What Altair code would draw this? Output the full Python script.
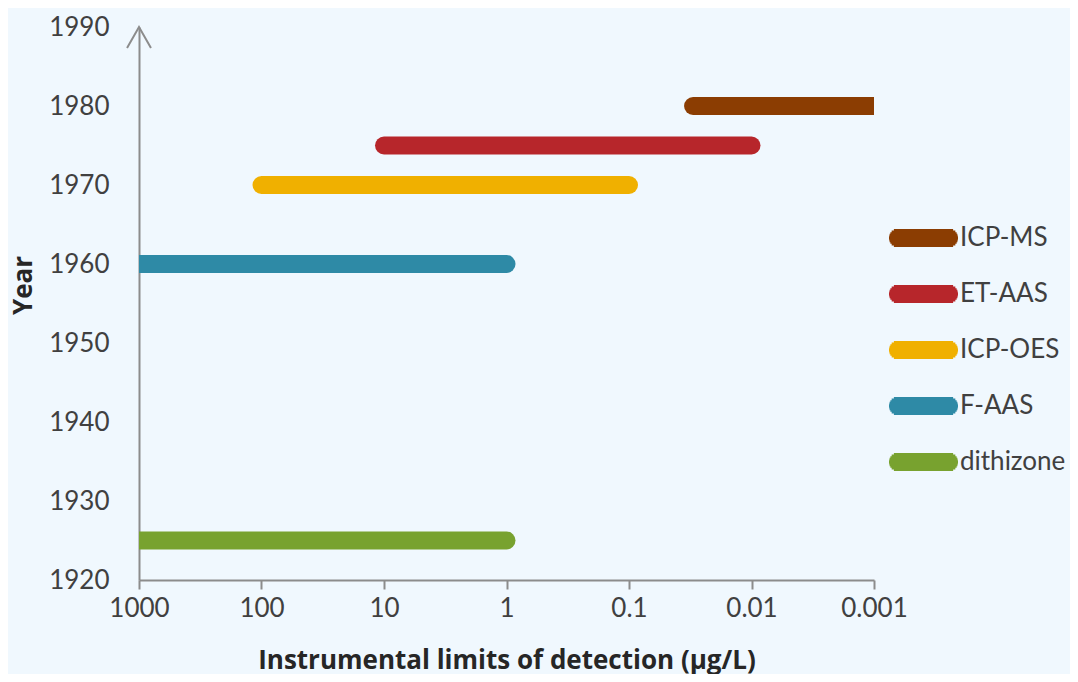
import math
import altair as alt
import pandas as pd

methods = ["ICP-MS", "ET-AAS", "ICP-OES", "F-AAS", "dithizone"]
years = [1980, 1975, 1970, 1960, 1925]
lod_high = [0.03, 10, 100, 1000, 1000]
lod_low = [0.001, 0.01, 0.1, 1, 1]
colors = ["#8B3D02", "#B7262B", "#F0B000", "#2E8AA6", "#78A22F"]

x_ticks = [1000, 100, 10, 1, 0.1, 0.01, 0.001]
y_ticks = [1920, 1930, 1940, 1950, 1960, 1970, 1980, 1990]

df = pd.DataFrame({"method": methods, "year": years, "hi": lod_high, "lo": lod_low})
arrow_df = pd.DataFrame({"x": [x_ticks[0]], "y": [y_ticks[-1]]})

FONT = "Lato"
TITLE_FONT = "Open Sans"
AXIS_GRAY = "#8C8C8C"

x_scale = alt.Scale(type="log", domain=[0.001, 1000], reverse=True)
y_scale = alt.Scale(domain=[1920, 1990], nice=False, zero=False)

# legend symbol: a round-capped thick line, drawn as thin horizontal strokes
# (path units: 1 unit = 10 px for symbolSize 400)
_segs = []
for i in range(11):
    yy = -8 + i * 1.6
    hx = 25.5 + math.sqrt(max(0.0, 81 - yy * yy))
    _segs.append(f"M{-hx/10:.3f},{yy/10:.3f} L{hx/10:.3f},{yy/10:.3f}")
capsule = " ".join(_segs)

bars = alt.Chart(df).mark_rule(strokeWidth=18, strokeCap="round", clip=True, opacity=1).encode(
    x=alt.X("hi:Q", scale=x_scale,
            axis=alt.Axis(values=x_ticks, format="~g", grid=False,
                          title="Instrumental limits of detection (µg/L)",
                          domainColor=AXIS_GRAY, domainWidth=2,
                          tickColor=AXIS_GRAY, tickWidth=2, tickSize=9,
                          labelFont=FONT, labelFontSize=26, labelColor="#404040",
                          labelPadding=6, labelFlush=False, labelOverlap=False,
                          titleFont=TITLE_FONT, titleFontSize=26, titleFontWeight="bold",
                          titleColor="#262626", titleY=88, titleBaseline="alphabetic")),
    x2="lo:Q",
    y=alt.Y("year:Q", scale=y_scale,
            axis=alt.Axis(values=y_ticks, format="d", grid=False, ticks=False,
                          title="Year", domainColor=AXIS_GRAY, domainWidth=2,
                          labelFont=FONT, labelFontSize=26, labelColor="#404040",
                          labelPadding=30, labelFlush=False, labelOverlap=False,
                          titleFont=TITLE_FONT, titleFontSize=26, titleFontWeight="bold",
                          titleColor="#262626", titleX=-116, titleY=258,
                          titleAlign="center", titleBaseline="middle")),
    color=alt.Color("method:N", sort=methods,
                    scale=alt.Scale(domain=methods, range=colors),
                    legend=alt.Legend(title=None, orient="none", legendX=771.5, legendY=198,
                                      padding=0, symbolType=capsule, symbolSize=400,
                                      symbolStrokeWidth=2, labelOffset=23.5,
                                      labelFont=FONT, labelFontSize=26, labelColor="#404040",
                                      rowPadding=30, labelLimit=300)),
)

arrow = alt.Chart(arrow_df).mark_point(
    shape="M-0.57,1 L0,0 L0.57,1", size=42 * 42, filled=False,
    stroke=AXIS_GRAY, strokeWidth=2, opacity=1, clip=False,
).encode(x=alt.X("x:Q", scale=x_scale), y=alt.Y("y:Q", scale=y_scale))

chart = alt.layer(bars, arrow).properties(
    width=735, height=553,
    autosize=alt.AutoSizeParams(type="none"),
    padding={"left": 131, "top": 19, "right": 196, "bottom": 94},
    background="#F0F8FE",
).configure_view(stroke=None)

chart.save("out.html", embed_options={"renderer": "svg", "actions": False})
